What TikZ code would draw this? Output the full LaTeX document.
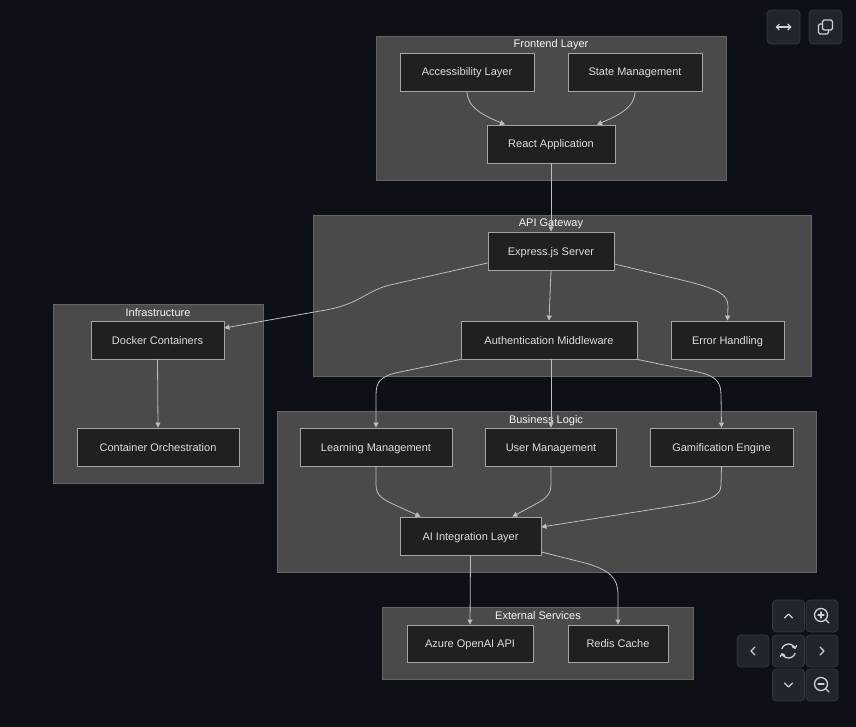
\documentclass[tikz,border=0pt]{standalone}
\usepackage{fontspec}
\setmainfont{Liberation Sans}
\usetikzlibrary{arrows.meta,calc}
\definecolor{bgc}{RGB}{13,17,23}
\definecolor{clfill}{RGB}{73,74,73}
\definecolor{clline}{RGB}{100,100,100}
\definecolor{ndfill}{RGB}{31,32,32}
\definecolor{ndline}{RGB}{165,165,165}
\definecolor{txt}{RGB}{222,222,222}
\definecolor{ttl}{RGB}{245,245,245}
\definecolor{edgec}{RGB}{190,190,190}
\definecolor{btnfill}{RGB}{33,38,45}
\definecolor{btnline}{RGB}{50,56,64}
\definecolor{icon}{RGB}{205,210,215}
\tikzset{
  cluster/.style={draw=clline, fill=clfill, line width=0.8pt},
  ctitle/.style={text=ttl, font=\fontsize{11}{13}\selectfont, inner sep=0pt,
    text height=8pt, text depth=0pt},
  box/.style={draw=ndline, fill=ndfill, line width=0.9pt, text=txt,
    font=\fontsize{11}{13}\selectfont, minimum height=38pt, inner sep=0pt,
    text height=8pt, text depth=0pt},
  link/.style={draw=edgec, line width=0.8pt, -{Triangle[length=5pt,width=5pt]}},
  btn/.style={draw=btnline, fill=btnfill, rounded corners=4pt, line width=0.8pt,
    minimum width=32pt, minimum height=32pt, inner sep=0pt},
  ic/.style={draw=icon, line width=1.3pt, line cap=round, line join=round}
}
\begin{document}
\begin{tikzpicture}[x=1pt,y=-1pt]
\useasboundingbox (0,0) rectangle (856,727);
\fill[bgc] (0,0) rectangle (856,727);

% clusters
\draw[cluster] (376,36) rectangle (726,180);
\node[ctitle] (tfront) at (551,44) {Frontend Layer};
\draw[cluster] (313,215) rectangle (811,376);
\node[ctitle] (tapi) at (551,223) {API Gateway};
\draw[cluster] (53,304) rectangle (263,483);
\node[ctitle] (tinfra) at (158,312) {Infrastructure};
\draw[cluster] (277,411) rectangle (816,572);
\node[ctitle] (tbiz) at (546,419) {Business Logic};
\draw[cluster] (382,607) rectangle (693,679);
\node[ctitle] (text) at (538,615) {External Services};

% nodes
\node[box, minimum width=134pt] (acc) at (467,72) {Accessibility Layer};
\node[box, minimum width=134pt] (state) at (635,72) {State Management};
\node[box, minimum width=128pt] (react) at (551,144) {React Application};
\node[box, minimum width=126pt] (exp) at (551,251) {Express.js Server};
\node[box, minimum width=176pt] (auth) at (549,340) {Authentication Middleware};
\node[box, minimum width=113pt] (err) at (727.5,340) {Error Handling};
\node[box, minimum width=133pt] (docker) at (157.5,340) {Docker Containers};
\node[box, minimum width=162pt] (orch) at (158,447) {Container Orchestration};
\node[box, minimum width=152pt] (learn) at (376,447) {Learning Management};
\node[box, minimum width=131pt] (user) at (551,447) {User Management};
\node[box, minimum width=143pt] (gam) at (721.5,447) {Gamification Engine};
\node[box, minimum width=141pt] (ai) at (470.5,536) {AI Integration Layer};
\node[box, minimum width=126pt, minimum height=37pt] (azure) at (470,643.5) {Azure OpenAI API};
\node[box, minimum width=100pt, minimum height=37pt] (redis) at (618,643.5) {Redis Cache};

% edges
\draw[link] (acc.south) .. controls (467,108) and (485,116) .. ([xshift=-46pt]react.north);
\draw[link] (state.south) .. controls (635,108) and (617,116) .. ([xshift=46pt]react.north);
\draw[link] (react.south) -- (exp.north);
\draw[link] (exp.south) -- (auth.north);
\draw[link] ([yshift=-13pt]exp.east) -- (690,282) .. controls (716,289) and (728,294) .. (728,306) -- (err.north);
\draw[link] ([yshift=-12pt]exp.west) -- (390,285) .. controls (365,291) and (360,305) .. (320,311) -- ([yshift=12pt]docker.east);
\draw[link] (docker.south) -- (orch.north);
\draw[link] (auth.south west) -- (400,372) .. controls (380,376) and (376,382) .. (376,395) -- (learn.north);
\draw[link] ([xshift=2pt]auth.south) -- (user.north);
\draw[link] (auth.south east) -- (698,372) .. controls (716,376) and (721,382) .. (721,395) -- (gam.north);
\draw[link] (learn.south) -- (376,485) .. controls (376,496) and (384,500) .. (395,505) -- ([xshift=-50pt]ai.north);
\draw[link] (user.south) -- (551,485) .. controls (551,496) and (543,500) .. (534,505) -- ([xshift=42pt]ai.north);
\draw[link] (gam.south) -- (721,485) .. controls (721,498) and (705,501) .. (680,505) -- ([yshift=9pt]ai.east);
\draw[link] (ai.south) -- (azure.north);
\draw[link] ([yshift=-16pt]ai.east) -- (585,563) .. controls (610,570) and (618,578) .. (618,595) -- (redis.north);

% viewer buttons
\node[btn, minimum width=33pt, minimum height=34pt] (bfit) at (783.5,27) {};
\node[btn, minimum width=33pt, minimum height=34pt] (bcopy) at (825.5,27) {};
\node[btn] (bup) at (788.5,616) {};
\node[btn] (bzin) at (822,616) {};
\node[btn] (bleft) at (753,651) {};
\node[btn] (breset) at (788.5,651) {};
\node[btn] (bright) at (822,651) {};
\node[btn] (bdown) at (788.5,685) {};
\node[btn] (bzout) at (822,685) {};

% icons
\draw[ic, line width=1.1pt, {Straight Barb[length=3pt,width=6pt]}-{Straight Barb[length=3pt,width=6pt]}] ([xshift=-8pt]bfit.center) -- ([xshift=8pt]bfit.center);
\draw[ic, rounded corners=1.5pt] ($(bcopy.center)+(-3,-7)$) rectangle ($(bcopy.center)+(7,3)$);
\draw[ic, rounded corners=1.5pt] ($(bcopy.center)+(-3,-3)$) -- ($(bcopy.center)+(-7,-3)$) -- ($(bcopy.center)+(-7,7)$) -- ($(bcopy.center)+(3,7)$) -- ($(bcopy.center)+(3,3)$);
\draw[ic] ($(bup.center)+(-4,2)$) -- ($(bup.center)+(0,-2)$) -- ($(bup.center)+(4,2)$);
\draw[ic] ($(bdown.center)+(-4,-2)$) -- ($(bdown.center)+(0,2)$) -- ($(bdown.center)+(4,-2)$);
\draw[ic] ($(bleft.center)+(2,-4)$) -- ($(bleft.center)+(-2,0)$) -- ($(bleft.center)+(2,4)$);
\draw[ic] ($(bright.center)+(-2,-4)$) -- ($(bright.center)+(2,0)$) -- ($(bright.center)+(-2,4)$);
\draw[ic] ($(bzin.center)+(-1,-1)$) circle[radius=6.5pt];
\draw[ic] ($(bzin.center)+(3.8,3.8)$) -- ($(bzin.center)+(7,7)$);
\draw[ic] ($(bzin.center)+(-4,-1)$) -- ($(bzin.center)+(2,-1)$);
\draw[ic] ($(bzin.center)+(-1,-4)$) -- ($(bzin.center)+(-1,2)$);
\draw[ic] ($(bzout.center)+(-1,-1)$) circle[radius=6.5pt];
\draw[ic] ($(bzout.center)+(3.8,3.8)$) -- ($(bzout.center)+(7,7)$);
\draw[ic] ($(bzout.center)+(-4,-1)$) -- ($(bzout.center)+(2,-1)$);
\draw[ic, -{Straight Barb[length=2.5pt,width=5pt]}] ($(breset.center)+(160:7pt)$) arc[start angle=160, end angle=15, radius=7pt];
\draw[ic, -{Straight Barb[length=2.5pt,width=5pt]}] ($(breset.center)+(-20:7pt)$) arc[start angle=-20, end angle=-165, radius=7pt];
\end{tikzpicture}
\end{document}
